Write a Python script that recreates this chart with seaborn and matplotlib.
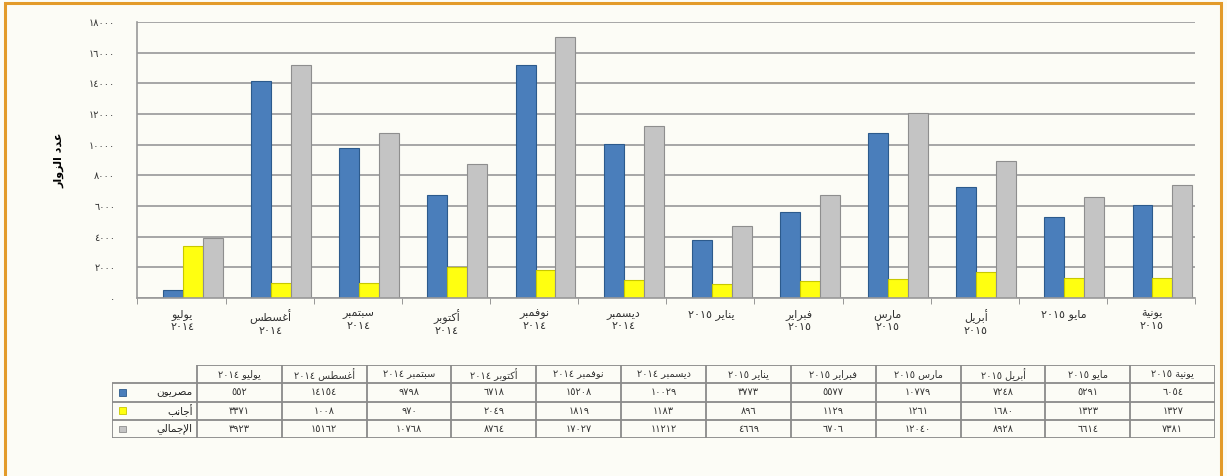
import matplotlib
matplotlib.use("Agg")
import matplotlib.pyplot as plt
import pandas as pd
import seaborn as sns
from matplotlib.patches import Rectangle

# data
months = ["يوليو ٢٠١٤", "أغسطس ٢٠١٤", "سبتمبر ٢٠١٤", "أكتوبر ٢٠١٤", "نوفمبر ٢٠١٤", "ديسمبر ٢٠١٤",
          "يناير ٢٠١٥", "فبراير ٢٠١٥", "مارس ٢٠١٥", "أبريل ٢٠١٥", "مايو ٢٠١٥", "يونية ٢٠١٥"]
tick_labels = ["يوليو\n٢٠١٤", "أغسطس\n٢٠١٤", "سبتمبر\n٢٠١٤", "أكتوبر\n٢٠١٤", "نوفمبر\n٢٠١٤", "ديسمبر\n٢٠١٤",
               "يناير ٢٠١٥", "فبراير\n٢٠١٥", "مارس\n٢٠١٥", "أبريل\n٢٠١٥", "مايو ٢٠١٥", "يونية\n٢٠١٥"]
series = ["مصريون", "أجانب", "الإجمالي"]
egyptians = [552, 14154, 9798, 6718, 15208, 10029, 3773, 5577, 10779, 7248, 5291, 6054]
foreigners = [3371, 1008, 970, 2049, 1819, 1183, 896, 1129, 1261, 1680, 1323, 1327]
totals = [3923, 15162, 10768, 8764, 17027, 11212, 4669, 6706, 12040, 8928, 6614, 7381]
y_ticks = [0, 2000, 4000, 6000, 8000, 10000, 12000, 14000, 16000, 18000]
y_title = "عدد الزوار"

colors = ["#4A7EBB", "#FFFF10", "#C4C4C4"]
edges = ["#2C5A8C", "#C8C800", "#8E8E8E"]

# matplotlib has no arabic shaping, so join letters with presentation forms by hand
RIGHT_JOIN = {"ا": 0xFE8D, "أ": 0xFE83, "إ": 0xFE87, "ة": 0xFE93, "د": 0xFEA9, "ر": 0xFEAD, "ز": 0xFEAF, "و": 0xFEED}
DUAL_JOIN = {"ب": 0xFE8F, "ت": 0xFE95, "ج": 0xFE9D, "س": 0xFEB1, "ص": 0xFEB9, "ط": 0xFEC1, "ع": 0xFEC9,
             "غ": 0xFECD, "ف": 0xFED1, "ك": 0xFED9, "ل": 0xFEDD, "م": 0xFEE1, "ن": 0xFEE5, "ي": 0xFEF1}
LAM_ALEF = {"آ": 0xFEF5, "أ": 0xFEF7, "إ": 0xFEF9, "ا": 0xFEFB}
DIGITS = str.maketrans("0123456789", "٠١٢٣٤٥٦٧٨٩")


def shape_word(word):
    out = []
    i = 0
    while i < len(word):
        c = word[i]
        prev_joins = i > 0 and word[i - 1] in DUAL_JOIN
        if c == "ل" and i + 1 < len(word) and word[i + 1] in LAM_ALEF:
            out.append(chr(LAM_ALEF[word[i + 1]] + (1 if prev_joins else 0)))
            i += 2
            continue
        if c in DUAL_JOIN:
            nxt = i + 1 < len(word) and (word[i + 1] in DUAL_JOIN or word[i + 1] in RIGHT_JOIN)
            form = 3 if (prev_joins and nxt) else 2 if nxt else 1 if prev_joins else 0
            out.append(chr(DUAL_JOIN[c] + form))
        elif c in RIGHT_JOIN:
            out.append(chr(RIGHT_JOIN[c] + (1 if prev_joins else 0)))
        else:
            out.append(c)
        i += 1
    return "".join(out)[::-1]


def ar(text):
    lines = []
    for line in text.split("\n"):
        tokens = [shape_word(t) if any(ch in DUAL_JOIN or ch in RIGHT_JOIN for ch in t) else t
                  for t in line.split(" ")]
        lines.append(" ".join(reversed(tokens)))
    return "\n".join(lines)


def ar_num(n):
    return str(n).translate(DIGITS)


df = pd.DataFrame({
    "month": months * 3,
    "series": [s for s in series for _ in months],
    "value": egyptians + foreigners + totals,
})

plt.rcParams["font.family"] = ["DejaVu Sans"]
fig = plt.figure(figsize=(12.27, 4.76), dpi=100, facecolor="#FCFCF6")
fig.patches.append(Rectangle((0.004, -0.01), 0.991, 1.003, transform=fig.transFigure, fill=False,
                             edgecolor="#E39B2A", linewidth=2.2))

ax = fig.add_axes([0.112, 0.374, 0.862, 0.58])
ax.set_facecolor("#FCFCF6")
sns.barplot(data=df, x="month", y="value", hue="series", order=months, hue_order=series,
            palette=colors, saturation=1, width=0.68, linewidth=0.8, legend=False, ax=ax)
for cont, ec in zip(ax.containers, edges):
    for bar in cont:
        bar.set_edgecolor(ec)

# the bars sit a little right of the category centre, as in the 3-D original
ax.set_ylim(0, 18000)
ax.set_xlim(-0.63, 11.37)
ax.set_yticks(y_ticks)
ax.set_yticklabels([ar_num(v) for v in y_ticks], fontsize=7, color="#333333")
ax.set_xticks([i - 0.12 for i in range(len(months))])
ax.set_xticklabels([ar(t) for t in tick_labels], fontsize=8, color="#333333", linespacing=1.3)
ax.set_xticks([i + 0.37 for i in range(-1, 12)], minor=True)
ax.tick_params(axis="x", which="major", length=0, pad=8)
ax.tick_params(axis="x", which="minor", length=4, color="#888888")
ax.tick_params(axis="y", length=0, pad=16)
ax.grid(axis="y", color="#A6A6A6", linewidth=1.4)
ax.set_axisbelow(True)
for side in ["top", "right"]:
    ax.spines[side].set_visible(False)
for side in ["left", "bottom"]:
    ax.spines[side].set_color("#999999")
    ax.spines[side].set_linewidth(1.2)
ax.set_xlabel("")
ax.set_ylabel(ar(y_title), fontsize=8, fontweight="bold", labelpad=18)

# data table under the chart
tab = fig.add_axes([0.0913, 0.08, 0.899, 0.153])
tab.set_xlim(0, 13)
tab.set_ylim(0, 4)
tab.axis("off")
line_kw = dict(color="#8A8A8A", linewidth=1.3)
tab.hlines(4, 1, 13, **line_kw)
tab.hlines([0, 1, 2, 3], 0, 13, **line_kw)
tab.vlines(0, 0, 3, **line_kw)
tab.vlines(range(1, 14), 0, 4, **line_kw)
for j, m in enumerate(months):
    tab.text(j + 1.5, 3.5, ar(m), ha="center", va="center", fontsize=7, color="#333333")
for r, (name, vals, col, ec) in enumerate(zip(series, [egyptians, foreigners, totals], colors, edges)):
    y = 2.5 - r
    tab.add_patch(Rectangle((0.08, y - 0.18), 0.09, 0.36, facecolor=col, edgecolor=ec, linewidth=0.6))
    tab.text(0.95, y, ar(name), ha="right", va="center", fontsize=7.5, color="#222222")
    for j, v in enumerate(vals):
        tab.text(j + 1.5, y, ar_num(v), ha="center", va="center", fontsize=7, color="#333333")

fig.savefig("out.png", dpi=100, facecolor=fig.get_facecolor())
